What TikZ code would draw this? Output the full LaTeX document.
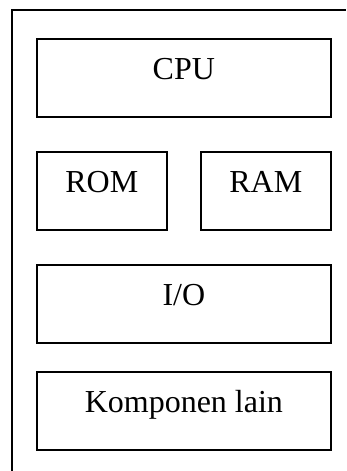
\documentclass[tikz,border=0pt]{standalone}
\usepackage{fontspec}
\setmainfont{Liberation Serif}
\begin{document}
\begin{tikzpicture}[x=1bp,y=-1bp,
  comp/.style={draw, line width=1.7bp, inner sep=0pt, anchor=north west,
    font=\fontsize{32bp}{37bp}\selectfont, text height=21bp, text depth=18.5bp},
  wide/.style={comp, minimum width=294bp, minimum height=78bp},
  half/.style={comp, minimum width=130bp, minimum height=78bp}]
\useasboundingbox (0,0) rectangle (346,471);
\coordinate (fb) at (12,471);
\coordinate (ft) at (12,10);
\coordinate (fr) at (346,10);
\draw[line width=1.7bp] (fb) -- (ft) -- (fr);
\node[wide] (cpu) at (36,38) {CPU};
\node[half] (rom) at (36,151) {ROM};
\node[half] (ram) at (200,151) {RAM};
\node[wide] (io) at (36,264) {I/O};
\node[wide] (lain) at (36,371) {Komponen lain};
\end{tikzpicture}
\end{document}
